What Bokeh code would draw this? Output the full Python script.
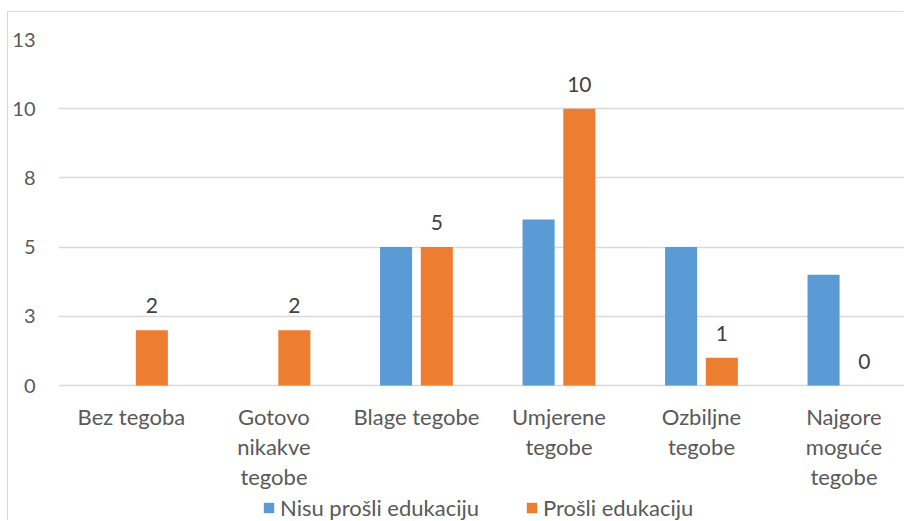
from bokeh.plotting import figure
from bokeh.models import Range1d, FixedTicker, ColumnDataSource, Legend, LegendItem, LabelSet
from bokeh.transform import dodge
from bokeh.core.properties import value
from bokeh.embed import file_html
from bokeh.resources import INLINE

categories = ["Bez tegoba", "Gotovo\nnikakve\ntegobe", "Blage tegobe",
              "Umjerene\ntegobe", "Ozbiljne\ntegobe", "Najgore\nmoguće\ntegobe"]
series_names = ["Nisu prošli edukaciju", "Prošli edukaciju"]
nisu = [0, 0, 5, 6, 5, 4]
prosli = [2, 2, 5, 10, 1, 0]
y_ticks = [0, 2.5, 5, 7.5, 10, 12.5]
y_tick_labels = ["0", "3", "5", "8", "10", "13"]

FONT = "Lato"
BLUE = "#5B9BD5"
ORANGE = "#ED7D31"
GRID = "#D9D9D9"
LINE_STEP = 30  # px between wrapped label lines

xs = list(range(len(categories)))
source = ColumnDataSource(dict(x=xs, nisu=nisu, prosli=prosli,
                               prosli_label=[str(v) for v in prosli]))

# one row per wrapped line of each category label, so every line is centred
lx, ltext, loff = [], [], []
for i, cat in enumerate(categories):
    for j, line in enumerate(cat.split("\n")):
        lx.append(i)
        ltext.append(line)
        loff.append(-17 - LINE_STEP * j)
line_source = ColumnDataSource(dict(x=lx, base=[0] * len(lx), text=ltext, off=loff))

# frame covers the plot and the space under it (category labels + legend)
p = figure(width=896, height=509, output_backend="svg", toolbar_location=None,
           x_range=Range1d(-0.512, 5.425), y_range=Range1d(-4.913, 12.5),
           min_border_left=50, min_border_right=0, min_border_top=27,
           min_border_bottom=0, background_fill_color="white",
           border_fill_color="white", outline_line_color=None)
p.margin = (12, 0, 0, 8)
p.styles = {"box-shadow": "-1px -1px 0 0 #d9d9d9"}

r1 = p.vbar(x=dodge("x", -0.143, range=p.x_range), top="nisu", width=0.225,
            source=source, fill_color=BLUE, line_color=None)
r2 = p.vbar(x=dodge("x", 0.143, range=p.x_range), top="prosli", width=0.225,
            source=source, fill_color=ORANGE, line_color=None)

labels = LabelSet(x=dodge("x", 0.143, range=p.x_range), y="prosli", text="prosli_label",
                  source=source, text_align="center", text_baseline="alphabetic",
                  y_offset=17, text_font=value(FONT), text_font_size="21px",
                  text_color="#404040")
p.add_layout(labels)

cat_labels = LabelSet(x="x", y="base", text="text", source=line_source,
                      text_align="center", text_baseline="top", y_offset="off",
                      text_font=value(FONT), text_font_size="22px",
                      text_color="#595959")
p.add_layout(cat_labels)

# y axis
p.yaxis.ticker = FixedTicker(ticks=y_ticks)
p.yaxis.major_label_overrides = {t: l for t, l in zip(y_ticks, y_tick_labels)}
p.yaxis.axis_line_color = None
p.yaxis.major_tick_line_color = None
p.yaxis.minor_tick_line_color = None
p.yaxis.major_tick_out = 0
p.yaxis.major_label_standoff = 23
p.yaxis.major_label_text_font = FONT
p.yaxis.major_label_text_font_size = "20px"
p.yaxis.major_label_text_color = "#595959"

p.xaxis.visible = False
p.xgrid.grid_line_color = None
p.ygrid.ticker = FixedTicker(ticks=y_ticks)
p.ygrid.grid_line_color = GRID
p.ygrid.grid_line_width = 1.5

legend = Legend(items=[LegendItem(label=series_names[0], renderers=[r1]),
                       LegendItem(label=series_names[1], renderers=[r2])],
                location=(204, 0), orientation="horizontal",
                glyph_width=13, glyph_height=13, label_standoff=5, spacing=46,
                padding=0, margin=0, border_line_color=None,
                background_fill_alpha=0, label_text_font=FONT,
                label_text_font_size="22px", label_text_color="#595959")
p.add_layout(legend)

open("out.html", "w").write(file_html(p, INLINE))
